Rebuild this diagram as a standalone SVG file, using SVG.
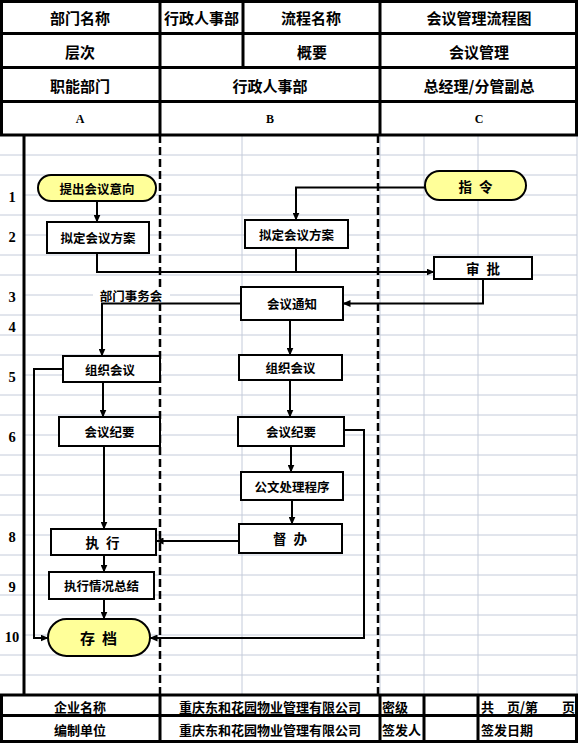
<svg xmlns="http://www.w3.org/2000/svg" width="578" height="744" viewBox="0 0 578 744">
<style>
.grid{stroke:#C4CBDA;stroke-width:1;fill:none}
.thick{stroke:#000;stroke-width:3;fill:none}
.dash{stroke:#000;stroke-width:2.5;stroke-dasharray:8 4;fill:none}
.box{fill:#fff;stroke:#000;stroke-width:2}
.pill{fill:#FFFF99;stroke:#000;stroke-width:2}
.conn path{fill:none;stroke:#000;stroke-width:2}
.t{font-family:"Noto Sans CJK SC","Noto Sans CJK JP",sans-serif;font-weight:bold;fill:#000;text-anchor:middle;dominant-baseline:central}
.h{font-size:15px}
.n{font-size:12.5px}
.f{font-size:13px}
.sp{font-size:13.5px;letter-spacing:7px}
.num{font-family:"Liberation Serif",serif;font-weight:bold;font-size:14.5px;fill:#000;text-anchor:middle;dominant-baseline:central}
</style>
<defs>
<marker id="arr" markerUnits="userSpaceOnUse" markerWidth="8" markerHeight="7" refX="7.5" refY="3.5" orient="auto">
<path d="M0,0 L8,3.5 L0,7 z" fill="#000"/>
</marker>
</defs>
<rect x="0" y="0" width="578" height="744" fill="#fff"/>

<g id="gridlines">
<path class="grid" d="M24,155H577M24,175H577M24,195H577M24,215H577M24,235H577M24,255H577M24,275H577M24,295H93M170,295H577M24,315H577M24,335H577M24,355H577M24,375H577M24,395H577M24,415H577M24,435H577M24,455H577M24,475H577M24,495H577M24,515H577M24,535H577M24,555H577M24,575H577M24,595H577M24,615H577M24,635H577M24,655H577M24,675H577"/>
<path class="grid" d="M0,155H24M0,175H24M0,215H24M0,255H24M0,275H24M0,315H24M0,335H24M0,355H24M0,395H24M0,415H24M0,455H24M0,475H24M0,495H24M0,515H24M0,555H24M0,575H24M0,595H24M0,615H24M0,655H24M0,675H24"/>
<path class="grid" d="M242,135V695M380,135V695M424,135V695M478,135V695M577,135V695"/>
</g>

<g id="frame">
<path class="thick" d="M0,1.5H578M0,33.5H578M0,67.5H578M0,101.5H578M0,135H578M1.5,0V135M160,0V135M243,0V67.5M380,0V135M576.5,0V135"/>
<path class="thick" d="M24,135V695"/>
<path class="dash" d="M160,135V695M378,135V695"/>
<path class="thick" d="M0,695H578M0,715.5H578M0,741.5H578M1.5,695V742M160,695V742M380,695V742M424,695V742M478,695V742M576.5,695V742"/>
</g>

<g id="header">
<text class="t h" x="80" y="17">部门名称</text>
<text class="t h" x="201.5" y="17">行政人事部</text>
<text class="t h" x="311" y="17">流程名称</text>
<text class="t h" x="479" y="17">会议管理流程图</text>
<text class="t h" x="80" y="51">层次</text>
<text class="t h" x="312" y="51">概要</text>
<text class="t h" x="479" y="51">会议管理</text>
<text class="t h" x="80" y="85">职能部门</text>
<text class="t h" x="270" y="85">行政人事部</text>
<text class="t h" x="479" y="85">总经理/分管副总</text>
<text class="num" x="80" y="119" style="font-size:12px">A</text>
<text class="num" x="270" y="119" style="font-size:12px">B</text>
<text class="num" x="479" y="119" style="font-size:12px">C</text>
</g>

<g id="rownumbers">
<text class="num" x="12" y="197">1</text>
<text class="num" x="12" y="237">2</text>
<text class="num" x="12" y="297">3</text>
<text class="num" x="12" y="327">4</text>
<text class="num" x="12" y="377">5</text>
<text class="num" x="12" y="437">6</text>
<text class="num" x="12" y="537">8</text>
<text class="num" x="12" y="587">9</text>
<text class="num" x="12" y="637">10</text>
</g>

<g id="footer">
<text class="t f" x="80" y="706">企业名称</text>
<text class="t f" x="270" y="706">重庆东和花园物业管理有限公司</text>
<text class="t f" x="382" y="706" style="text-anchor:start">密级</text>
<text class="t f" y="706" style="text-anchor:start"><tspan x="481">共</tspan><tspan x="507">页/第</tspan><tspan x="562">页</tspan></text>
<text class="t f" x="80" y="729">编制单位</text>
<text class="t f" x="270" y="729">重庆东和花园物业管理有限公司</text>
<text class="t f" x="382" y="729" style="text-anchor:start">签发人</text>
<text class="t f" x="481" y="729" style="text-anchor:start">签发日期</text>
</g>

<g id="connectors" class="conn">
<path d="M97,201V222" marker-end="url(#arr)"/>
<path d="M425,187.5H296V220" marker-end="url(#arr)"/>
<path d="M97,253V272H434" marker-end="url(#arr)"/>
<path d="M296,248V272"/>
<path d="M483,279V303.5H343" marker-end="url(#arr)"/>
<path d="M241,303.5H102V356" marker-end="url(#arr)"/>
<path d="M290,320V355" marker-end="url(#arr)"/>
<path d="M103,382V417" marker-end="url(#arr)"/>
<path d="M290,380V417" marker-end="url(#arr)"/>
<path d="M291,446V472" marker-end="url(#arr)"/>
<path d="M292,500V524" marker-end="url(#arr)"/>
<path d="M104,446V529" marker-end="url(#arr)"/>
<path d="M239,541H156" marker-end="url(#arr)"/>
<path d="M104,555V572" marker-end="url(#arr)"/>
<path d="M104,599V619" marker-end="url(#arr)"/>
<path d="M63,369H34V638H48" marker-end="url(#arr)"/>
<path d="M344,430H364V638H150" marker-end="url(#arr)"/>
</g>

<g id="label-bumenshiwuhui">
<rect x="94" y="288" width="72" height="14" fill="#fff"/>
<text class="t n" x="131" y="295">部门事务会</text>
</g>

<g id="node-tichu">
<rect class="pill" x="38" y="175" width="118" height="26" rx="13"/>
<text class="t n" x="97" y="188">提出会议意向</text>
</g>
<g id="node-niding-a">
<rect class="box" x="47" y="222" width="102" height="31"/>
<text class="t n" x="98" y="237.5">拟定会议方案</text>
</g>
<g id="node-zhiling">
<rect class="pill" x="425" y="171" width="101" height="29" rx="14.5"/>
<text class="t sp" x="479" y="185.5">指令</text>
</g>
<g id="node-niding-b">
<rect class="box" x="245" y="220" width="103" height="28"/>
<text class="t n" x="296.5" y="234">拟定会议方案</text>
</g>
<g id="node-shenpi">
<rect class="box" x="434" y="257" width="98" height="22"/>
<text class="t sp" x="486.5" y="268">审批</text>
</g>
<g id="node-tongzhi">
<rect class="box" x="241" y="287" width="102" height="33"/>
<text class="t n" x="292" y="303.5">会议通知</text>
</g>
<g id="node-zuzhi-a">
<rect class="box" x="63" y="356" width="97" height="26"/>
<text class="t n" x="110" y="369">组织会议</text>
</g>
<g id="node-zuzhi-b">
<rect class="box" x="239" y="355" width="103" height="25"/>
<text class="t n" x="290.5" y="367.5">组织会议</text>
</g>
<g id="node-jiyao-a">
<rect class="box" x="59" y="417" width="101" height="29"/>
<text class="t n" x="109.5" y="431.5">会议纪要</text>
</g>
<g id="node-jiyao-b">
<rect class="box" x="238" y="417" width="106" height="29"/>
<text class="t n" x="291" y="431.5">会议纪要</text>
</g>
<g id="node-gongwen">
<rect class="box" x="241" y="472" width="102" height="28"/>
<text class="t n" x="292" y="486">公文处理程序</text>
</g>
<g id="node-duban">
<rect class="box" x="239" y="524" width="103" height="29"/>
<text class="t sp" x="293.5" y="538">督办</text>
</g>
<g id="node-zhixing">
<rect class="box" x="51" y="529" width="105" height="26"/>
<text class="t sp" x="106" y="542">执行</text>
</g>
<g id="node-zongjie">
<rect class="box" x="49" y="572" width="105" height="27"/>
<text class="t n" x="101.5" y="585.5">执行情况总结</text>
</g>
<g id="node-cundang">
<rect class="pill" x="48" y="619" width="102" height="37" rx="18.5"/>
<text class="t sp" x="102" y="637.5" style="font-size:15px">存档</text>
</g>
</svg>
